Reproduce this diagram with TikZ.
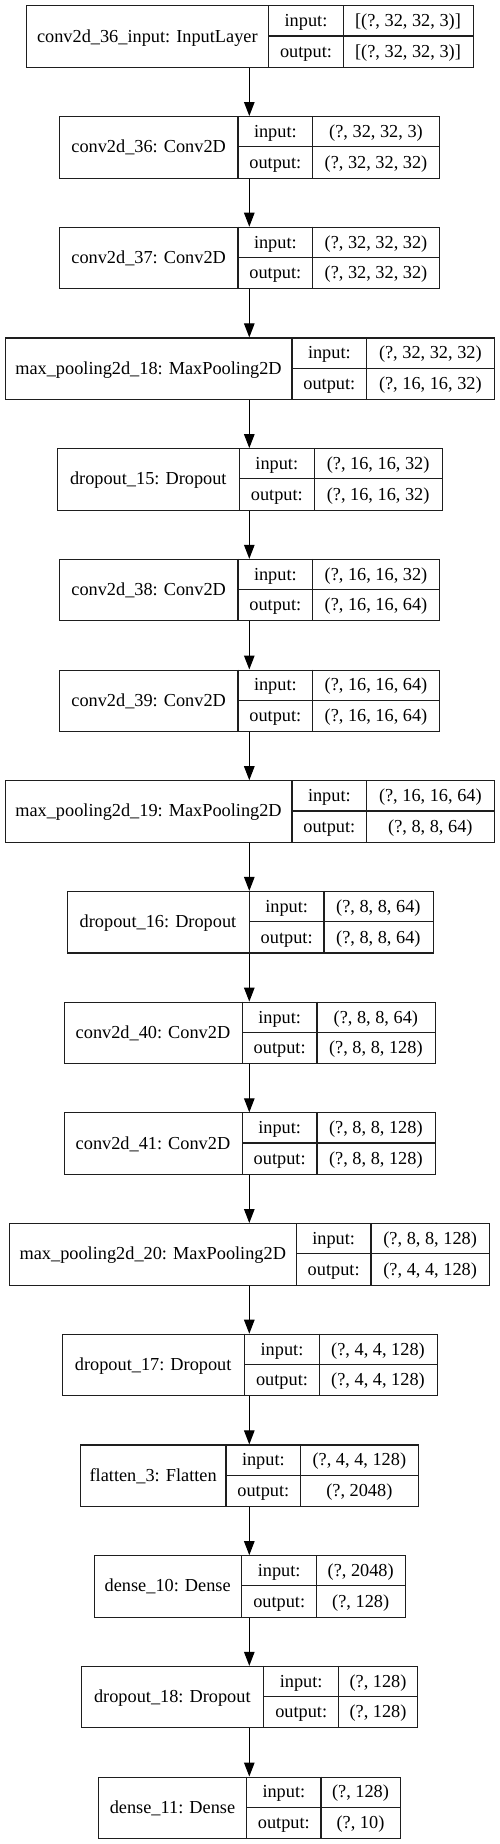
\documentclass[tikz,border=0pt]{standalone}
\usepackage{fontspec}
\setmainfont{Liberation Serif}
\usetikzlibrary{arrows.meta}
\definecolor{edge}{RGB}{30,30,30}
\tikzset{
  box/.style={draw=edge, line width=1.15pt, inner sep=0pt, anchor=north west},
  div/.style={draw=edge, line width=1.15pt},
  lbl/.style={inner sep=0pt, anchor=base, font=\fontsize{18.3}{20}\selectfont},
  arr/.style={draw=black, line width=1.15pt, -{Triangle[length=14pt,width=10.5pt]}},
}
\newcommand\mylayer[8]{%
  \pgfmathsetmacro\ytop{5.3+110.7*#1}%
  \pgfmathsetmacro\ybot{\ytop+61.5}%
  \pgfmathsetmacro\ymid{\ytop+30.75}%
  \pgfmathsetmacro\wid{#5-#2}%
  \pgfmathsetmacro\xa{(#2+#3)/2}%
  \pgfmathsetmacro\xb{(#3+#4)/2}%
  \pgfmathsetmacro\xc{(#4+#5)/2}%
  \node[box, minimum width=\wid pt, minimum height=61.5pt] (L#1) at (#2,\ytop) {};
  \draw[div] (#3,\ytop) -- (#3,\ybot) (#4,\ytop) -- (#4,\ybot) (#3,\ymid) -- (#5,\ymid);
  \node[lbl] (N#1) at (\xa,\ytop+36.75) {#6};
  \node[lbl] (I#1) at (\xb,\ytop+21.4) {input:};
  \node[lbl] (O#1) at (\xb,\ytop+52.1) {output:};
  \node[lbl] (IV#1) at (\xc,\ytop+21.4) {#7};
  \node[lbl] (OV#1) at (\xc,\ytop+52.1) {#8};
}
\begin{document}
\begin{tikzpicture}[x=1pt,y=-1pt]
\useasboundingbox (0,0) rectangle (499,1844);
\fill[white] (0,0) rectangle (499,1844);
\coordinate (ax) at (249.3,0);
\mylayer{0}{26}{268.7}{343.3}{472.7}{conv2d\_36\_input: InputLayer}{[(?, 32, 32, 3)]}{[(?, 32, 32, 3)]}
\mylayer{1}{59.3}{238}{312.7}{439.3}{conv2d\_36: Conv2D}{(?, 32, 32, 3)}{(?, 32, 32, 32)}
\mylayer{2}{59.3}{238}{312.7}{439.3}{conv2d\_37: Conv2D}{(?, 32, 32, 32)}{(?, 32, 32, 32)}
\mylayer{3}{5}{292}{366.7}{494}{max\_pooling2d\_18: MaxPooling2D}{(?, 32, 32, 32)}{(?, 16, 16, 32)}
\mylayer{4}{57.3}{239.3}{314.3}{442}{dropout\_15: Dropout}{(?, 16, 16, 32)}{(?, 16, 16, 32)}
\mylayer{5}{59.3}{238}{312.7}{439.3}{conv2d\_38: Conv2D}{(?, 16, 16, 32)}{(?, 16, 16, 64)}
\mylayer{6}{59.3}{238}{312.7}{439.3}{conv2d\_39: Conv2D}{(?, 16, 16, 64)}{(?, 16, 16, 64)}
\mylayer{7}{5}{292}{366.7}{494}{max\_pooling2d\_19: MaxPooling2D}{(?, 16, 16, 64)}{(?, 8, 8, 64)}
\mylayer{8}{66.7}{249.3}{324}{432.7}{dropout\_16: Dropout}{(?, 8, 8, 64)}{(?, 8, 8, 64)}
\mylayer{9}{63.7}{242.3}{317}{434.7}{conv2d\_40: Conv2D}{(?, 8, 8, 64)}{(?, 8, 8, 128)}
\mylayer{10}{63.7}{242.3}{317}{434.7}{conv2d\_41: Conv2D}{(?, 8, 8, 128)}{(?, 8, 8, 128)}
\mylayer{11}{9.3}{296.3}{371}{489.3}{max\_pooling2d\_20: MaxPooling2D}{(?, 8, 8, 128)}{(?, 4, 4, 128)}
\mylayer{12}{61.7}{244.7}{319.3}{436.7}{dropout\_17: Dropout}{(?, 4, 4, 128)}{(?, 4, 4, 128)}
\mylayer{13}{80.3}{226}{300.7}{418}{flatten\_3: Flatten}{(?, 4, 4, 128)}{(?, 2048)}
\mylayer{14}{93.7}{241.7}{316.7}{404.7}{dense\_10: Dense}{(?, 2048)}{(?, 128)}
\mylayer{15}{81}{263.7}{338.7}{417.3}{dropout\_18: Dropout}{(?, 128)}{(?, 128)}
\mylayer{16}{98.3}{246.7}{321}{400}{dense\_11: Dense}{(?, 128)}{(?, 10)}
\foreach \i [evaluate=\i as \j using int(\i+1)] in {0,...,15} {
  \draw[arr] (L\i.south -| ax) -- (L\j.north -| ax);
}
\end{tikzpicture}
\end{document}
